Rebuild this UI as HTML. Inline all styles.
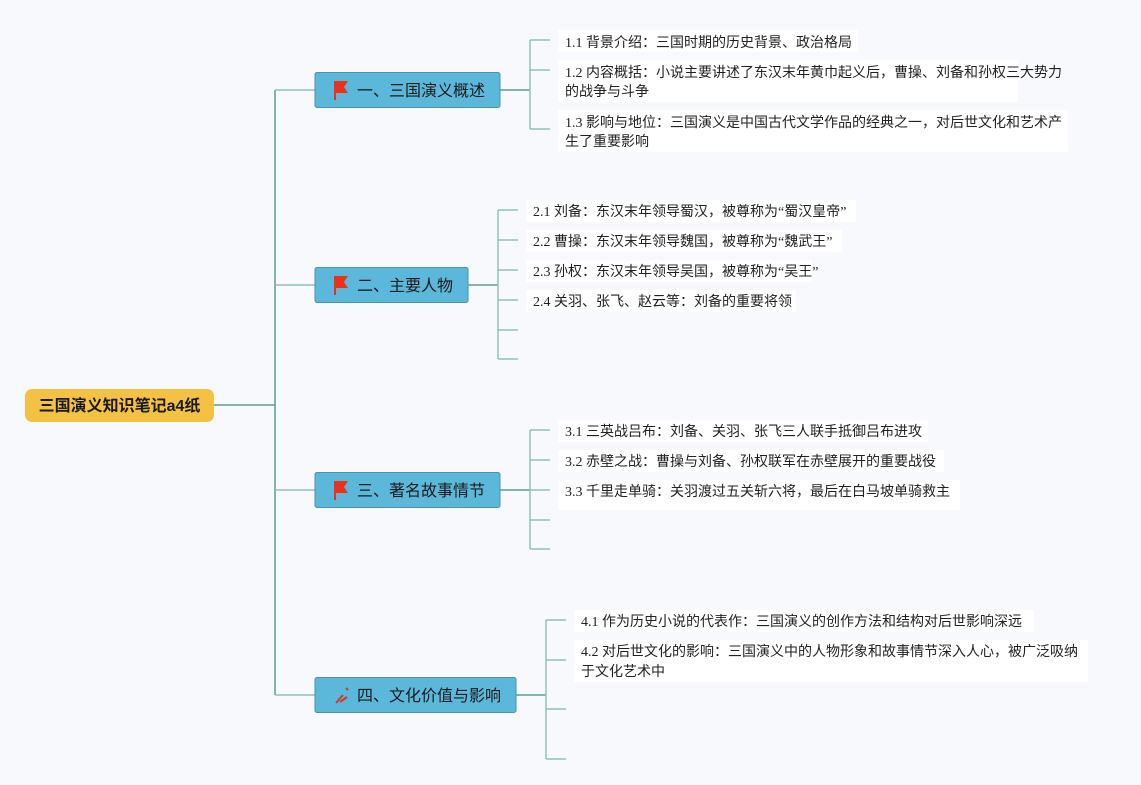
<!DOCTYPE html>
<html><head><meta charset="utf-8"><style>
body{margin:0;background:#f7f9fc;}
svg{display:block;font-family:"Liberation Serif","Noto Sans CJK SC",sans-serif;}
.l{fill:#222;font-size:14px;}
.b{fill:#1a1a1a;font-size:16px;font-family:"Liberation Sans","Noto Sans CJK SC",sans-serif;}
</style></head><body>
<svg width="1141" height="785" viewBox="0 0 1141 785">
<g fill="none" stroke-width="1.5">
<path d="M214 405H275M275 90V695" stroke="#5f9c8e"/>
<path d="M275 90H315M275 285H315M275 490H315M275 695H315" stroke="#8fc1b5"/>
<path d="M500 90H530M468 285H498M500 490H530M516 695H546" stroke="#5f9c8e"/>
<path d="M530 40V129M530 40H550M530 70H550M530 129H550" stroke="#8fc1b5"/>
<path d="M498 210V359M498 210H518M498 240H518M498 270H518M498 300H518M498 330H518M498 359H518" stroke="#8fc1b5"/>
<path d="M530 430V549M530 430H550M530 460H550M530 490H550M530 520H550M530 549H550" stroke="#8fc1b5"/>
<path d="M546 620V759M546 620H566M546 660H566M546 709H566M546 759H566" stroke="#8fc1b5"/>
</g>
<rect x="25" y="389" width="189" height="33" rx="7" fill="#f4c242"/>
<text x="119.5" y="411" text-anchor="middle" font-size="16" font-weight="bold" fill="#1a1a1a" font-family="Liberation Sans,Noto Sans CJK SC,sans-serif">三国演义知识笔记a4纸</text>
<g stroke="#4a93ac" fill="#5bb8db">
<rect x="315" y="72.5" width="185" height="35" rx="2"/>
<rect x="315" y="267.5" width="153" height="35" rx="2"/>
<rect x="315" y="472.5" width="185" height="35" rx="2"/>
<rect x="315" y="677.5" width="201" height="35" rx="2"/>
</g>
<g fill="#e8321e">
<path d="M334 81H348L344 87L348 93H336V100H334Z"/>
<path d="M334 276H348L344 282L348 288H336V295H334Z"/>
<path d="M334 481H348L344 487L348 493H336V500H334Z"/>
<path d="M336 703L343 695M340 702L347 697M346 688L348 690" stroke="#d03a2a" stroke-width="2"/>
</g>
<text class="b" x="357" y="96">一、三国演义概述</text>
<text class="b" x="357" y="291">二、主要人物</text>
<text class="b" x="357" y="496">三、著名故事情节</text>
<text class="b" x="357" y="701">四、文化价值与影响</text>
<g fill="#fff">
<rect x="558" y="30" width="300" height="22"/>
<rect x="558" y="60" width="460" height="42"/>
<rect x="558" y="110" width="510" height="42"/>
<rect x="526" y="200" width="330" height="22"/>
<rect x="526" y="230" width="316" height="22"/>
<rect x="526" y="260" width="286" height="22"/>
<rect x="526" y="290" width="270" height="22"/>
<rect x="558" y="420" width="370" height="22"/>
<rect x="558" y="450" width="386" height="22"/>
<rect x="558" y="480" width="402" height="30"/>
<rect x="574" y="610" width="460" height="22"/>
<rect x="574" y="640" width="514" height="42"/>
</g>
<g class="l">
<text x="565" y="47">1.1 背景介绍：三国时期的历史背景、政治格局</text>
<text x="565" y="77">1.2 内容概括：小说主要讲述了东汉末年黄巾起义后，曹操、刘备和孙权三大势力</text>
<text x="565" y="96">的战争与斗争</text>
<text x="565" y="127">1.3 影响与地位：三国演义是中国古代文学作品的经典之一，对后世文化和艺术产</text>
<text x="565" y="146">生了重要影响</text>
<text x="533" y="216">2.1 刘备：东汉末年领导蜀汉，被尊称为“蜀汉皇帝”</text>
<text x="533" y="246">2.2 曹操：东汉末年领导魏国，被尊称为“魏武王”</text>
<text x="533" y="276">2.3 孙权：东汉末年领导吴国，被尊称为“吴王”</text>
<text x="533" y="306">2.4 关羽、张飞、赵云等：刘备的重要将领</text>
<text x="565" y="436">3.1 三英战吕布：刘备、关羽、张飞三人联手抵御吕布进攻</text>
<text x="565" y="466">3.2 赤壁之战：曹操与刘备、孙权联军在赤壁展开的重要战役</text>
<text x="565" y="496">3.3 千里走单骑：关羽渡过五关斩六将，最后在白马坡单骑救主</text>
<text x="581" y="626">4.1 作为历史小说的代表作：三国演义的创作方法和结构对后世影响深远</text>
<text x="581" y="656">4.2 对后世文化的影响：三国演义中的人物形象和故事情节深入人心，被广泛吸纳</text>
<text x="581" y="676">于文化艺术中</text>
</g>
</svg>
</body></html>
